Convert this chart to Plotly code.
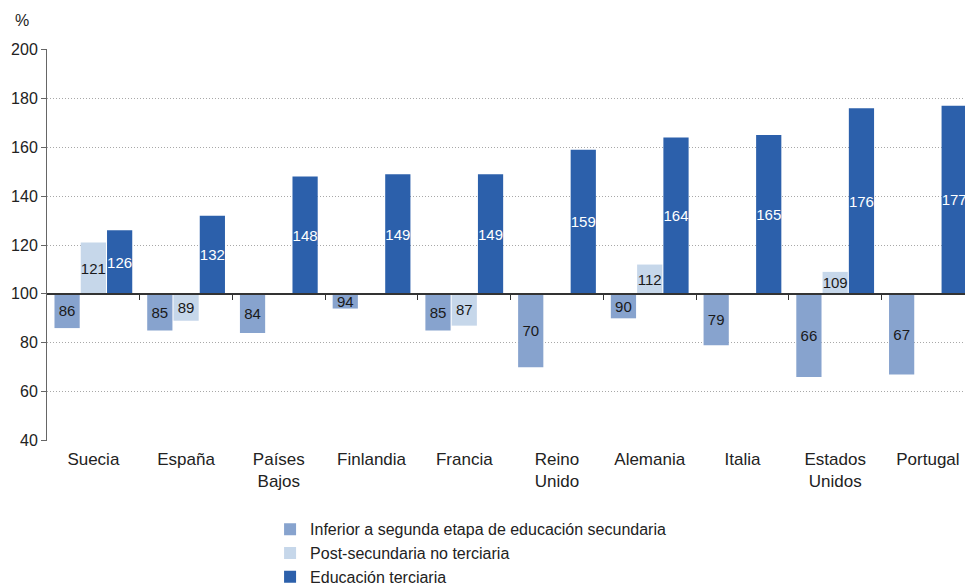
import plotly.graph_objects as go

categories = ["Suecia", "España", "Países<br>Bajos", "Finlandia", "Francia",
              "Reino<br>Unido", "Alemania", "Italia", "Estados<br>Unidos", "Portugal"]
inferior = [86, 85, 84, 94, 85, 70, 90, 79, 66, 67]
post_sec = [121, 89, None, None, 87, None, 112, None, 109, None]
terciaria = [126, 132, 148, 149, 149, 159, 164, 165, 176, 177]

series_names = ["Inferior a segunda etapa de educación secundaria",
                "Post-secundaria no terciaria",
                "Educación terciaria"]
series_colors = ["#87a3ce", "#c6d7ea", "#2c60ab"]
text_colors = ["#1a1a1a", "#1a1a1a", "#ffffff"]
BASE = 100
FONT = "Liberation Sans, Arial, sans-serif"
XR = [-0.5, 9.4]

fig = go.Figure()
for name, vals, col, tcol in zip(series_names, [inferior, post_sec, terciaria],
                                 series_colors, text_colors):
    fig.add_trace(go.Bar(
        x=categories,
        y=[None if v is None else v - BASE for v in vals],
        base=BASE,
        name=name,
        marker=dict(color=col, line=dict(width=0)),
        text=["" if v is None else str(v) for v in vals],
        textposition="inside",
        insidetextanchor="middle",
        textangle=0,
        textfont=dict(color=tcol, size=15, family=FONT),
        constraintext="none",
        cliponaxis=True,
    ))

# invisible helper trace so the baseline axis (at 100) is drawn
fig.add_trace(go.Scatter(x=[0], y=[BASE], xaxis="x2", yaxis="y", mode="markers",
                         marker=dict(opacity=0), showlegend=False, hoverinfo="skip"))

fig.update_layout(
    width=965, height=586,
    margin=dict(l=47, r=0, t=49, b=145, autoexpand=False),
    paper_bgcolor="white", plot_bgcolor="white",
    barmode="group", bargap=0.15, bargroupgap=0.04,
    font=dict(family=FONT, size=16, color="#222"),
    uniformtext=dict(minsize=15, mode="show"),
    showlegend=True,
    legend=dict(orientation="v", x=0.243, y=-0.182, xanchor="left", yanchor="top",
                font=dict(size=16, color="#222"), traceorder="normal",
                itemwidth=30, tracegroupgap=0, bgcolor="rgba(0,0,0,0)"),
    xaxis=dict(type="category", range=XR, showline=False, ticks="",
               showgrid=False, zeroline=False, tickfont=dict(size=17, color="#222"),
               ticklabelstandoff=6, automargin=False),
    xaxis2=dict(overlaying="x", anchor="free", position=(BASE - 39.8) / 160.4,
                range=XR, showline=True, linecolor="#333", linewidth=1.5,
                ticks="outside", ticklen=5, tickcolor="#333",
                tickvals=[i + 0.5 for i in range(9)], showticklabels=False,
                showgrid=False, zeroline=False, automargin=False),
    yaxis=dict(range=[39.8, 200.2], tickvals=[40, 60, 80, 100, 120, 140, 160, 180, 200],
               showline=True, linecolor="#666",
               linewidth=1, ticks="outside", ticklen=5, tickcolor="#666",
               showgrid=True, gridcolor="#a8a8a8", griddash="1px,2px", gridwidth=1,
               zeroline=False, tickfont=dict(size=16, color="#222"), automargin=False),
)

fig.add_annotation(text="%", x=-0.037, y=1.045, xref="paper", yref="paper",
                   xanchor="left", yanchor="bottom", showarrow=False,
                   font=dict(size=16, color="#222"))

fig.write_html("out.html", config={"displayModeBar": False},
               post_script="document.body.style.margin='0';")
